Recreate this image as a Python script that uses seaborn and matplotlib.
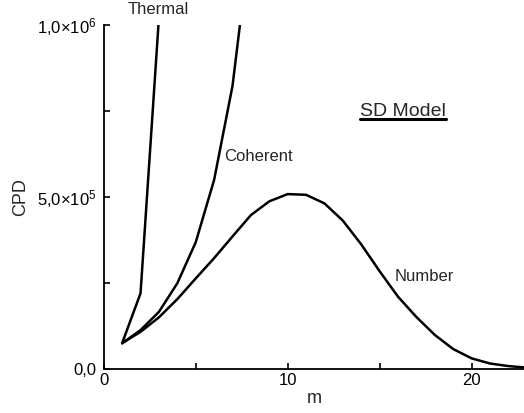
import numpy as np
import pandas as pd
import matplotlib
matplotlib.use('Agg')
import matplotlib.pyplot as plt
from matplotlib.ticker import MultipleLocator, FuncFormatter
from matplotlib.lines import Line2D
import seaborn as sns

# photon counting distributions
m_thermal = [1, 2, 3]
cpd_thermal = [75000, 220000, 1020000]

m_coherent = [1, 2, 3, 4, 5, 6, 7, 8]
cpd_coherent = [75000, 113000, 166000, 249000, 368000, 549000, 822000, 1260000]

m_number = list(range(1, 24))
cpd_number = [75000, 108000, 150000, 203000, 263000, 322000, 385000, 447000,
              487000, 508000, 506000, 481000, 431000, 362000, 284000, 210000,
              151000, 99000, 58000, 31000, 16000, 8500, 4000]

sns.set_style('ticks')
plt.rcParams['font.family'] = ['Liberation Sans', 'DejaVu Sans']
plt.rcParams['mathtext.default'] = 'regular'

fig = plt.figure(figsize=(5.24, 4.13), dpi=100)
ax = fig.add_axes([0.198, 0.1065, 0.802, 0.8337])

for mm, cc in [(m_thermal, cpd_thermal), (m_coherent, cpd_coherent), (m_number, cpd_number)]:
    sns.lineplot(x=mm, y=cc, color='black', linewidth=1.8, ax=ax)

ax.set_xlim(0, 22.85)
ax.set_ylim(0, 1.0e6)

ax.xaxis.set_major_locator(MultipleLocator(5))
ax.yaxis.set_major_locator(MultipleLocator(2.5e5))


def xfmt(v, pos):
    if abs(v % 10) < 1e-6:
        return '%d' % v
    return ''


def yfmt(v, pos):
    if abs(v) < 1:
        return '0,0'
    if abs(v - 5e5) < 1:
        return '5,0×10$^{5}$'
    if abs(v - 1e6) < 1:
        return '1,0×10$^{6}$'
    return ''


ax.xaxis.set_major_formatter(FuncFormatter(xfmt))
ax.yaxis.set_major_formatter(FuncFormatter(yfmt))
ax.tick_params(direction='in', length=4, width=1.2, labelsize=12, colors='black')
ax.tick_params(axis='x', pad=3)
ax.tick_params(axis='y', pad=5)

for s in ['top', 'right']:
    ax.spines[s].set_visible(False)
for s in ['left', 'bottom']:
    ax.spines[s].set_linewidth(1.3)
    ax.spines[s].set_color('black')

ax.set_xlabel('m', fontsize=13, labelpad=1)
ax.set_ylabel('CPD', fontsize=13, labelpad=6)

ax.text(2.95, 1.043e6, 'Thermal', fontsize=12, ha='center', va='center', clip_on=False)
ax.text(6.54, 6.16e5, 'Coherent', fontsize=12, ha='left', va='center')
ax.text(15.83, 2.7e5, 'Number', fontsize=12, ha='left', va='center')
t = ax.text(13.93, 7.47e5, 'SD Model', fontsize=14, ha='left', va='center')

# underline under "SD Model"
fig.canvas.draw()
bb = t.get_window_extent(renderer=fig.canvas.get_renderer())
inv = fig.transFigure.inverted()
x0, y0 = inv.transform((bb.x0, bb.y0 + 1))
x1, _ = inv.transform((bb.x1, bb.y0 + 1))
fig.add_artist(Line2D([x0, x1], [y0, y0], color='black', linewidth=2.2, transform=fig.transFigure))

plt.savefig('out.png', dpi=100)
